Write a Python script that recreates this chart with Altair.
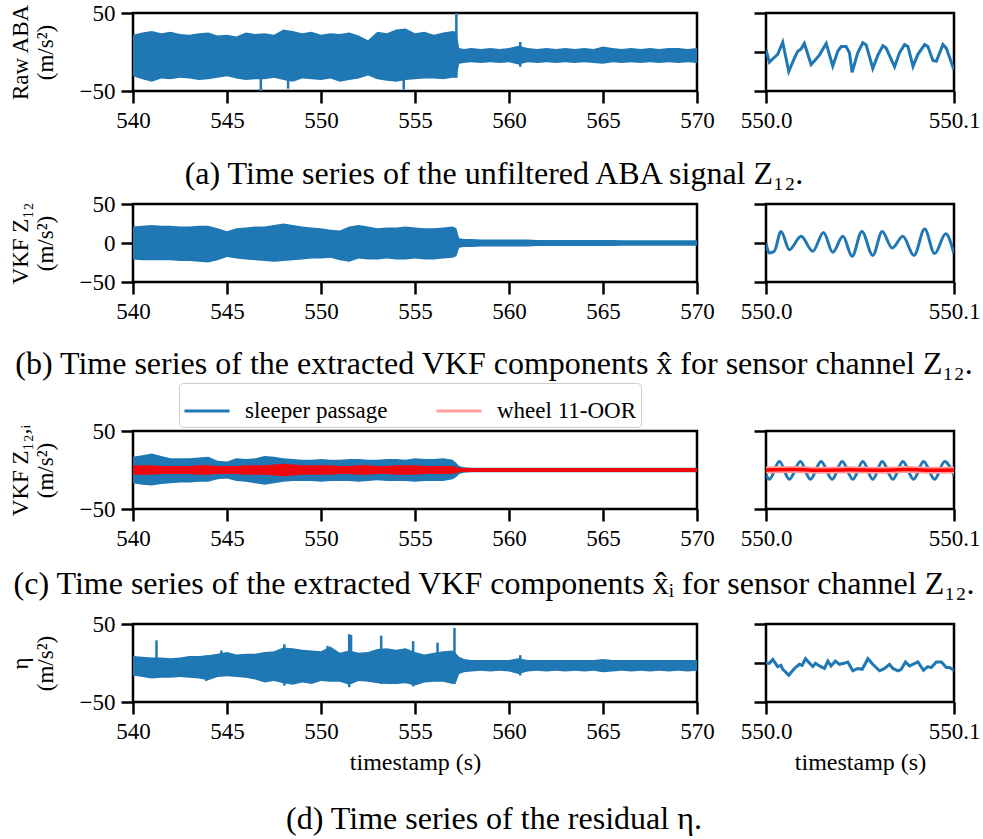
import altair as alt
import pandas as pd

BLUE = "#1f77b4"
FONT = "Liberation Serif"

# ---------------- data ----------------
T_WIDE = [540.0, 540.5, 541.0, 541.5, 542.0, 542.5, 543.0, 543.5, 544.0, 544.5,
          545.0, 545.5, 546.0, 546.5, 547.0, 547.5, 548.0, 548.5, 549.0, 549.5,
          550.0, 550.5, 551.0, 551.5, 552.0, 552.5, 553.0, 553.5, 554.0, 554.5,
          555.0, 555.5, 556.0, 556.5, 557.0, 557.2, 557.35, 557.6, 558.0, 558.5,
          559.0, 559.5, 560.0, 560.5, 561.0, 561.5, 562.0, 562.5, 563.0, 563.5,
          564.0, 564.5, 565.0, 565.5, 566.0, 566.5, 567.0, 567.5, 568.0, 568.5,
          569.0, 569.5, 570.0]

A_UP = [22, 25, 27, 24, 26, 23, 22, 24, 25, 21,
        22, 20, 25, 23, 24, 22, 29, 27, 24, 26,
        22, 24, 23, 25, 21, 15, 26, 24, 29, 30,
        24, 26, 22, 25, 27, 26, 5, 4, 5, 4,
        5, 4, 5, 8, 5, 4, 5, 4, 5, 4,
        5, 4, 7, 5, 4, 5, 4, 5, 4, 5,
        5, 4, 5]
A_LO = [-31, -35, -38, -34, -35, -33, -34, -36, -35, -33,
        -31, -34, -36, -35, -35, -33, -36, -38, -34, -35,
        -36, -34, -38, -36, -34, -30, -35, -37, -38, -36,
        -35, -34, -34, -35, -33, -33, -15, -14, -13, -14,
        -13, -14, -13, -16, -13, -14, -13, -14, -13, -14,
        -13, -14, -15, -13, -14, -13, -14, -13, -14, -13,
        -14, -13, -14]
A_SPIKE_T = [546.8, 548.25, 554.4, 557.2, 560.6]
A_SPIKE_LO = [-50, -47, -48, -33, -19]
A_SPIKE_HI = [20, 22, 28, 50, 13]

B_UP = [21, 22, 23, 22, 22, 21, 21, 22, 22, 19,
        15, 19, 20, 21, 21, 23, 25, 23, 21, 20,
        19, 17, 16, 21, 23, 21, 19, 20, 20, 21,
        20, 19, 19, 20, 21, 19, 6, 5, 5, 4.5,
        4.5, 4.5, 4.5, 4.5, 4.5, 4, 4, 4, 4, 4,
        4, 4, 4, 4, 3.5, 3.5, 3.5, 3.5, 3.5, 3.5,
        3.5, 3.5, 3.5]
B_LO = [-21, -22, -22, -22, -22, -23, -23, -24, -25, -22,
        -18, -20, -21, -22, -23, -24, -23, -22, -21, -20,
        -20, -19, -22, -24, -20, -21, -21, -20, -21, -21,
        -20, -21, -21, -20, -19, -17, -6, -5, -5, -4.5,
        -4.5, -4.5, -4.5, -4.5, -4.5, -4, -4, -4, -4, -4,
        -4, -4, -4, -4, -3.5, -3.5, -3.5, -3.5, -3.5, -3.5,
        -3.5, -3.5, -3.5]

C_UP = [17, 19, 21, 18, 15, 15, 15, 16, 17, 12,
        11, 15, 14, 15, 18, 17, 15, 14, 13, 13,
        14, 13, 13, 14, 14, 13, 13, 14, 14, 13,
        15, 14, 14, 15, 13, 9, 5, 3.5, 3, 3,
        3, 3, 3, 3, 3, 3, 3, 3, 3, 3,
        3, 3, 3, 3, 3, 3, 3, 3, 3, 3,
        3, 3, 3]
C_LO = [-17, -19, -20, -18, -17, -16, -16, -15, -15, -12,
        -11, -14, -15, -17, -19, -17, -15, -14, -14, -14,
        -15, -14, -14, -14, -15, -14, -13, -14, -14, -14,
        -15, -14, -14, -14, -12, -9, -5, -3.5, -3, -3,
        -3, -3, -3, -3, -3, -3, -3, -3, -3, -3,
        -3, -3, -3, -3, -3, -3, -3, -3, -3, -3,
        -3, -3, -3]
C_RED_UP = [6, 6, 6, 5, 5, 5, 5, 6, 6, 5,
            5, 5, 6, 6, 6, 7, 8, 7, 6, 6,
            6, 6, 5, 5, 6, 6, 5, 5, 6, 6,
            6, 5, 5, 5, 5, 4, 3, 2.5, 2.5, 2.5,
            2.5, 2.5, 2.5, 2.5, 2.5, 2.5, 2.5, 2.5, 2.5, 2.5,
            2.5, 2.5, 2.5, 2.5, 2.5, 2.5, 2.5, 2.5, 2.5, 2.5,
            2.5, 2.5, 2.5]
C_RED_LO = [-6, -6, -6, -5, -5, -5, -5, -6, -6, -5,
            -5, -5, -6, -6, -6, -7, -8, -7, -6, -6,
            -6, -6, -5, -5, -6, -6, -5, -5, -6, -6,
            -6, -5, -5, -5, -5, -4, -3, -2.5, -2.5, -2.5,
            -2.5, -2.5, -2.5, -2.5, -2.5, -2.5, -2.5, -2.5, -2.5, -2.5,
            -2.5, -2.5, -2.5, -2.5, -2.5, -2.5, -2.5, -2.5, -2.5, -2.5,
            -2.5, -2.5, -2.5]

D_UP = [9, 8, 7, 7, 6, 7, 9, 9, 10, 12,
        14, 11, 12, 12, 14, 15, 20, 19, 17, 16,
        15, 21, 13, 16, 13, 14, 18, 19, 17, 19,
        14, 11, 13, 15, 16, 12, 8, 5, 4, 4,
        4, 4, 4, 6, 4, 4, 4, 4, 4, 4,
        4, 4, 5, 4, 4, 4, 4, 4, 4, 4,
        4, 4, 4]
D_LO = [-16, -18, -20, -19, -19, -18, -19, -20, -22, -18,
        -17, -18, -19, -21, -25, -23, -26, -28, -25, -27,
        -23, -24, -24, -28, -23, -24, -26, -27, -27, -26,
        -29, -25, -24, -24, -27, -24, -14, -12, -11, -10,
        -11, -10, -11, -14, -11, -10, -11, -10, -11, -10,
        -11, -10, -12, -11, -10, -11, -10, -11, -10, -11,
        -10, -11, -10]
D_SPIKE_T = [541.25, 543.9, 544.7, 548.05, 550.35, 551.5, 551.6, 553.2, 554.9, 556.2, 557.1, 560.6]
D_SPIKE_LO = [-15, -23, -16, -29, -22, -31, -27, -27, -30, -20, -27, -16]
D_SPIKE_HI = [29, 10, 16, 24, 22, 37, 36, 35, 28, 26, 45, 10]

# zoomed windows: milliseconds after 550.0 s and values (m/s^2)
NA_MS = [0, 1.8, 4.4, 6.2, 8.9, 12.1, 15.1, 16.9, 18.7, 20.4, 24.0, 26.3, 28.4, 32.0, 35.5,
         38.2, 40.0, 42.6, 44.4, 45.8, 48.8, 51.5, 53.3, 56.8, 59.5, 62.2, 63.9, 68.4, 71.0,
         73.7, 75.5, 78.2, 80.8, 84.4, 86.1, 88.8, 90.6, 94.1, 95.9, 100]
NA_V = [3, -13, -7, -3, 12.5, -25, -8, 1, 4, 11, -16, -10, -4, 11, -18,
        1, 7, 7, -1, -26, -1, 12, 9, -21, -4, 8, 5, -19, -1,
        9.5, 7, -18.5, -3, 9.5, 7, -11, -12, 9.5, 5, -23]

NB_MS = [0, 1.8, 4.4, 8.0, 12.4, 18.7, 24.9, 30.6, 35.5, 40.9, 45.8, 51.0, 56.8, 61.8,
         67.1, 72.8, 78.7, 84.4, 89.7, 95.6, 100]
NB_V = [0, -12.7, -10.6, 14.8, -8.5, 8.5, -10.6, 13.6, -11.9, 8.5, -17, 14.8, -16, 14.8,
        -6.4, 8.5, -16, 17.8, -13.6, 11.9, -13.6]

NC_MS = [0, 1.8, 7.1, 12.4, 18.3, 23.6, 29.3, 35.2, 40.5, 46.2, 51.5, 56.8, 61.8, 67.5,
         72.8, 78.5, 83.8, 89.7, 95.0, 100]
NC_V = [-6, -12, 11, -12, 11, -12, 11, -12, 11, -12, 11, -12, 11, -12, 11, -12, 11, -12, 11, -7]
NC_RED_MS = [0, 15, 30, 45, 60, 75, 90, 100]
NC_RED_V = [0, 0.5, -0.3, 0.4, -0.2, 0.5, -0.3, 0]

ND_MS = [0, 1.8, 3.6, 6.2, 8.0, 8.9, 12.1, 15.1, 17.8, 19.2, 21.0, 23.1, 24.9, 26.3, 28.4,
         31.1, 32.9, 34.6, 36.9, 39.1, 41.4, 43.5, 46.2, 48.8, 51.2, 54.2, 56.8, 60.4, 63.1,
         65.7, 67.5, 70.2, 71.9, 74.2, 76.4, 80.8, 83.8, 86.1, 87.9, 90.6, 93.3, 95.9, 97.7, 100]
ND_V = [0, -0.4, 4.6, -4.6, -3, -8, -15.6, -7, -1.7, -3, 5.5, 0, -4.6, -0.4, -3.8,
        -7, 2.5, -3.8, 2.5, -1.7, -0.4, 1.3, -10, -7, -8, 5.5, -1.7, -10, -7,
        -1.7, -7, -10, -8, 1.3, -3.8, 1.3, -9.3, -4.6, -5.9, 1.3, 1.3, -5.9, -5.9, -9.3]

WIDE_TICKS = [540, 545, 550, 555, 560, 565, 570]
NARROW_TICKS = [550.0, 550.1]
Y_TICKS = [-50, 0, 50]
SERIES = ["sleeper passage", "wheel 11-OOR"]

Y_TITLES = [["Raw ABA", "(m/s²)"], ["VKF Z₁₂", "(m/s²)"],
            ["VKF Z₁₂,ᵢ", "(m/s²)"], ["η", "(m/s²)"]]
CAPTIONS = ["(a) Time series of the unfiltered ABA signal Z₁₂.",
            "(b) Time series of the extracted VKF components x̂ for sensor channel Z₁₂.",
            "(c) Time series of the extracted VKF components x̂ᵢ for sensor channel Z₁₂.",
            "(d) Time series of the residual η."]
X_TITLE = "timestamp (s)"

# layout (pixels)
W_WIDE, W_NARROW, H = 564, 188, 78
GAP_HEIGHTS = [113, 149, 115, 128]      # blank band under each row that holds its caption
CAPTION_Y = [83, 82, 75, 117]            # caption centre inside that band
CAPTION_X = 361


def wide_panel(i, up, lo, red_up=None, red_lo=None, sp_t=None, sp_lo=None, sp_hi=None, last=False):
    df = pd.DataFrame({"t": T_WIDE, "hi": up, "lo": lo})
    x = alt.X("t:Q", scale=alt.Scale(domain=[540, 570], nice=False, zero=False),
              axis=alt.Axis(values=WIDE_TICKS, format="d",
                            title=X_TITLE if last else None, titleFontSize=24, titlePadding=7))
    y = alt.Y("lo:Q", scale=alt.Scale(domain=[-50, 50], nice=False),
              axis=alt.Axis(values=Y_TICKS, title=Y_TITLES[i], titleFontSize=23,
                            titleLineHeight=25, titlePadding=22))
    layers = [alt.Chart(df).mark_area(color=BLUE, opacity=1, clip=True).encode(x=x, y=y, y2="hi:Q")]
    if red_up is not None:
        dr = pd.DataFrame({"t": T_WIDE, "hi": red_up, "lo": red_lo})
        layers.append(alt.Chart(dr).mark_area(color="red", opacity=0.92, clip=True)
                      .encode(x="t:Q", y="lo:Q", y2="hi:Q"))
    if sp_t is not None:
        ds = pd.DataFrame({"t": sp_t, "lo": sp_lo, "hi": sp_hi})
        layers.append(alt.Chart(ds).mark_rule(color=BLUE, strokeWidth=2.5, clip=True)
                      .encode(x="t:Q", y="lo:Q", y2="hi:Q"))
    return alt.layer(*layers).properties(width=W_WIDE, height=H)


def narrow_x(last):
    return alt.X("t:Q", scale=alt.Scale(domain=[550.0, 550.1], nice=False, zero=False),
                 axis=alt.Axis(values=NARROW_TICKS, format=".1f",
                               title=X_TITLE if last else None, titleFontSize=24, titlePadding=7))


def narrow_y():
    return alt.Y("v:Q", scale=alt.Scale(domain=[-50, 50], nice=False),
                 axis=alt.Axis(values=Y_TICKS, labels=False, title=None))


def narrow_panel(ms, vals, interp="linear", last=False):
    df = pd.DataFrame({"t": [550 + m / 1000 for m in ms], "v": vals})
    return (alt.Chart(df).mark_line(color=BLUE, strokeWidth=3, interpolate=interp, clip=True)
            .encode(x=narrow_x(last), y=narrow_y())
            .properties(width=W_NARROW, height=H))


def narrow_c():
    dfb = pd.DataFrame({"t": [550 + m / 1000 for m in NC_MS], "v": NC_V, "s": SERIES[0]})
    dfr = pd.DataFrame({"t": [550 + m / 1000 for m in NC_RED_MS], "v": NC_RED_V, "s": SERIES[1]})
    color = alt.Color("s:N", scale=alt.Scale(domain=SERIES, range=[BLUE, "#ff9d9d"]),
                      legend=alt.Legend(orient="none", legendX=46, legendY=370,
                                        direction="horizontal", title=None,
                                        symbolType="stroke", symbolSize=2025,
                                        symbolStrokeWidth=3, labelFont=FONT,
                                        labelFontSize=23, labelColor="black",
                                        strokeColor="#cccccc", fillColor="white",
                                        padding=4, cornerRadius=4, columnPadding=42,
                                        labelOffset=14))
    blue = (alt.Chart(dfb).mark_line(strokeWidth=3, interpolate="monotone", clip=True)
            .encode(x=narrow_x(False), y=narrow_y(), color=color))
    halo = (alt.Chart(dfr).mark_line(strokeWidth=7, interpolate="monotone", clip=True)
            .encode(x="t:Q", y="v:Q", color=color))
    red = (alt.Chart(dfr).mark_line(strokeWidth=3.5, color="red", interpolate="monotone", clip=True)
           .encode(x="t:Q", y="v:Q"))
    return alt.layer(blue, halo, red).properties(width=W_NARROW, height=H)


def caption_band(i, width, text, x):
    df = pd.DataFrame({"c": [text]})
    return (alt.Chart(df).mark_text(font=FONT, fontSize=32, color="black",
                                    align="center", baseline="middle")
            .encode(x=alt.value(x), y=alt.value(CAPTION_Y[i]), text="c:N")
            .properties(width=width, height=GAP_HEIGHTS[i],
                        view=alt.ViewBackground(stroke="transparent", strokeWidth=0)))


cells = [
    wide_panel(0, A_UP, A_LO, sp_t=A_SPIKE_T, sp_lo=A_SPIKE_LO, sp_hi=A_SPIKE_HI),
    narrow_panel(NA_MS, NA_V),
    caption_band(0, W_WIDE, CAPTIONS[0], CAPTION_X), caption_band(0, W_NARROW, "", 10),
    wide_panel(1, B_UP, B_LO),
    narrow_panel(NB_MS, NB_V, "monotone"),
    caption_band(1, W_WIDE, CAPTIONS[1], CAPTION_X), caption_band(1, W_NARROW, "", 10),
    wide_panel(2, C_UP, C_LO, red_up=C_RED_UP, red_lo=C_RED_LO),
    narrow_c(),
    caption_band(2, W_WIDE, CAPTIONS[2], CAPTION_X), caption_band(2, W_NARROW, "", 10),
    wide_panel(3, D_UP, D_LO, sp_t=D_SPIKE_T, sp_lo=D_SPIKE_LO, sp_hi=D_SPIKE_HI, last=True),
    narrow_panel(ND_MS, ND_V, last=True),
    caption_band(3, W_WIDE, CAPTIONS[3], CAPTION_X), caption_band(3, W_NARROW, "", 10),
]

chart = (alt.concat(*cells, columns=2, spacing={"row": 0, "column": 69},
                    bounds="flush", align="each")
         .properties(padding={"left": 7, "top": 0, "right": 0, "bottom": 2}, background="white")
         .configure_view(stroke="black", strokeWidth=2.5)
         .configure_axis(domain=False, grid=False, tickColor="black", tickWidth=2.5, tickSize=12,
                         labelFont=FONT, labelFontSize=23, labelColor="black", labelPadding=6,
                         labelOverlap=False, labelFlush=False,
                         titleFont=FONT, titleFontWeight="normal", titleColor="black"))

chart.save("out.html", embed_options={"renderer": "svg", "actions": False})
